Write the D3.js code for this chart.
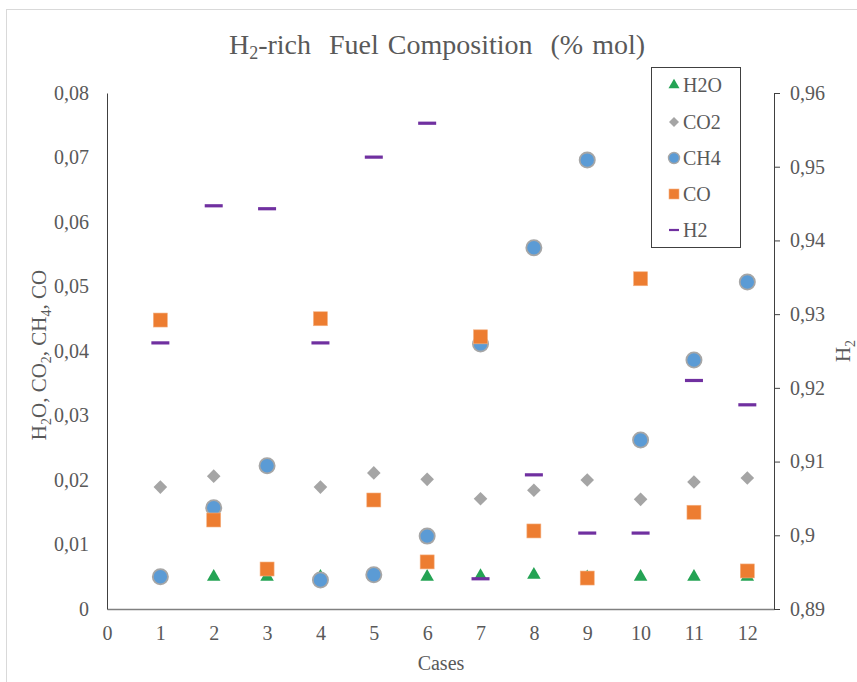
<!DOCTYPE html>
<html>
<head>
<meta charset="utf-8">
<script src="https://cdn.jsdelivr.net/npm/d3@7"></script>
<style>
  html, body { margin: 0; padding: 0; background: #fff; }
  svg { display: block; }
</style>
</head>
<body>
<svg id="chart" width="857" height="682"></svg>
<script>
// Cases on the x axis
const cases = [1, 2, 3, 4, 5, 6, 7, 8, 9, 10, 11, 12];

// Molar fractions (left axis)
const h2o = [0.0050, 0.0050, 0.0050, 0.0050, 0.0051, 0.0050, 0.0051, 0.0053, 0.0049, 0.0050, 0.0050, 0.0050];
const co2 = [0.0189, 0.0206, 0.0220, 0.0189, 0.0211, 0.0201, 0.0171, 0.0184, 0.0200, 0.0170, 0.0197, 0.0203];
const ch4 = [0.0050, 0.0157, 0.0222, 0.0045, 0.0053, 0.0113, 0.0411, 0.0560, 0.0696, 0.0262, 0.0386, 0.0507];
const co  = [0.0448, 0.0138, 0.0062, 0.0450, 0.0169, 0.0073, 0.0422, 0.0121, 0.0048, 0.0512, 0.0150, 0.0059];

// Hydrogen fraction (right axis)
const h2  = [0.9261, 0.9447, 0.9443, 0.9261, 0.9513, 0.9559, 0.8941, 0.9082, 0.9003, 0.9003, 0.9210, 0.9177];

// Tick values
const xTicks = [0, 1, 2, 3, 4, 5, 6, 7, 8, 9, 10, 11, 12];
const leftTicks = [0, 0.01, 0.02, 0.03, 0.04, 0.05, 0.06, 0.07, 0.08];
const rightTicks = [0.89, 0.90, 0.91, 0.92, 0.93, 0.94, 0.95, 0.96];

const legendNames = ["H2O", "CO2", "CH4", "CO", "H2"];

const FONT = "Liberation Serif";
const INK = "#595959";

const svg = d3.select("#chart").style("font-family", FONT);
const plot = { left: 107, right: 774, top: 93, bottom: 609 };

const x = d3.scaleLinear().domain([0, 12.5]).range([plot.left, plot.right]);
const yL = d3.scaleLinear().domain([0, 0.08]).range([plot.bottom, plot.top]);
const yR = d3.scaleLinear().domain([0.89, 0.96]).range([plot.bottom, plot.top]);

const comma = d => d === 0 ? "0" : String(+d.toFixed(2)).replace(".", ",");

function styleText(sel, size) {
  sel.style("font-family", FONT).style("font-size", size + "px").attr("fill", INK);
}

// Chart frame
svg.append("rect")
  .attr("x", 6.5).attr("y", 9.5).attr("width", 870).attr("height", 690)
  .attr("fill", "none").attr("stroke", "#d9d9d9").attr("stroke-width", 1);

// Title
const title = svg.append("text")
  .attr("x", 437).attr("y", 54)
  .attr("text-anchor", "middle")
  .style("word-spacing", "2px");
styleText(title, 28);
title.append("tspan").text("H");
title.append("tspan").attr("dy", 5).style("font-size", "18px").text("2");
title.append("tspan").attr("dy", -5).text("-rich\u00a0 Fuel Composition\u00a0 (% mol)");

// Bottom axis
const gx = svg.append("g").attr("transform", `translate(0,${plot.bottom})`)
  .call(d3.axisBottom(x).tickValues(xTicks).tickSize(0).tickPadding(17).tickFormat(d3.format("d")));
gx.select(".domain").attr("stroke", "#808080").attr("stroke-width", 1.3);
styleText(gx.selectAll("text"), 20);

// Left axis
const gl = svg.append("g").attr("transform", `translate(${plot.left},0)`)
  .call(d3.axisLeft(yL).tickValues(leftTicks).tickSize(0).tickPadding(18).tickFormat(comma));
gl.select(".domain").attr("stroke", "#404040").attr("stroke-width", 1);
styleText(gl.selectAll("text"), 20);

// Right axis
const gr = svg.append("g").attr("transform", `translate(${plot.right},0)`)
  .call(d3.axisRight(yR).tickValues(rightTicks).tickSizeInner(6).tickSizeOuter(0).tickPadding(10).tickFormat(comma));
gr.select(".domain").attr("stroke", "#404040").attr("stroke-width", 1);
gr.selectAll("line").attr("stroke", "#404040");
styleText(gr.selectAll("text"), 20);

// Axis titles
const xt = svg.append("text").attr("x", 441).attr("y", 670).attr("text-anchor", "middle").text("Cases");
styleText(xt, 20);

const lt = svg.append("text")
  .attr("transform", "translate(46,355) rotate(-90)")
  .attr("text-anchor", "middle");
styleText(lt, 21);
lt.append("tspan").text("H");
lt.append("tspan").attr("dy", 5).style("font-size", "14px").text("2");
lt.append("tspan").attr("dy", -5).text("O, CO");
lt.append("tspan").attr("dy", 5).style("font-size", "14px").text("2");
lt.append("tspan").attr("dy", -5).text(", CH");
lt.append("tspan").attr("dy", 5).style("font-size", "14px").text("4");
lt.append("tspan").attr("dy", -5).text(", CO");

const rt = svg.append("text")
  .attr("transform", "translate(850,351) rotate(-90)")
  .attr("text-anchor", "middle");
styleText(rt, 21);
rt.append("tspan").text("H");
rt.append("tspan").attr("dy", 5).style("font-size", "14px").text("2");

// Marker painters
const colors = { h2o: "#24a354", co2: "#a5a5a5", ch4: "#5b9bd5", co: "#ed7d31", h2: "#7030a0" };

function triangle(g, cx, cy, s) {
  const h = s * Math.sqrt(3) / 2;
  g.append("path")
    .attr("d", `M${cx},${cy - h * 2 / 3}L${cx + s / 2},${cy + h / 3}L${cx - s / 2},${cy + h / 3}Z`)
    .attr("fill", colors.h2o);
}
function diamond(g, cx, cy, r) {
  g.append("path")
    .attr("d", `M${cx},${cy - r}L${cx + r},${cy}L${cx},${cy + r}L${cx - r},${cy}Z`)
    .attr("fill", colors.co2);
}
function circle(g, cx, cy, r, sw) {
  g.append("circle").attr("cx", cx).attr("cy", cy).attr("r", r)
    .attr("fill", colors.ch4).attr("stroke", "#a6a6a6").attr("stroke-width", sw);
}
function square(g, cx, cy, s) {
  g.append("rect").attr("x", cx - s / 2).attr("y", cy - s / 2).attr("width", s).attr("height", s)
    .attr("fill", colors.co).attr("stroke", "#f4b183").attr("stroke-width", 0.6);
}
function dash(g, cx, cy, w, t) {
  g.append("rect").attr("x", cx - w / 2).attr("y", cy - t / 2).attr("width", w).attr("height", t)
    .attr("fill", colors.h2);
}

// Series, drawn in series order so later ones overlay earlier ones
const marks = svg.append("g");
const gH2O = marks.append("g"), gCO2 = marks.append("g"), gCH4 = marks.append("g"),
      gCO = marks.append("g"), gH2 = marks.append("g");
cases.forEach((c, i) => {
  triangle(gH2O, x(c), yL(h2o[i]), 13.5);
  diamond(gCO2, x(c), yL(co2[i]), 6.8);
  circle(gCH4, x(c), yL(ch4[i]), 7.6, 1.8);
  square(gCO, x(c), yL(co[i]), 14);
  dash(gH2, x(c), yR(h2[i]), 18, 3.2);
});

// Legend
const lg = svg.append("g");
lg.append("rect").attr("x", 651.5).attr("y", 67.5).attr("width", 89).attr("height", 180)
  .attr("fill", "#fff").attr("stroke", "#404040").attr("stroke-width", 1);
const legendY = [85, 122, 158, 194, 230];
const lx = 674;
triangle(lg, lx, legendY[0], 11);
diamond(lg, lx, legendY[1], 5);
circle(lg, lx, legendY[2], 5.5, 1.4);
square(lg, lx, legendY[3], 10);
dash(lg, lx, legendY[4], 10, 2.2);
legendNames.forEach((n, i) => {
  const t = lg.append("text").attr("x", 683).attr("y", legendY[i]).attr("dy", "0.35em").text(n);
  styleText(t, 20);
});
</script>
</body>
</html>
